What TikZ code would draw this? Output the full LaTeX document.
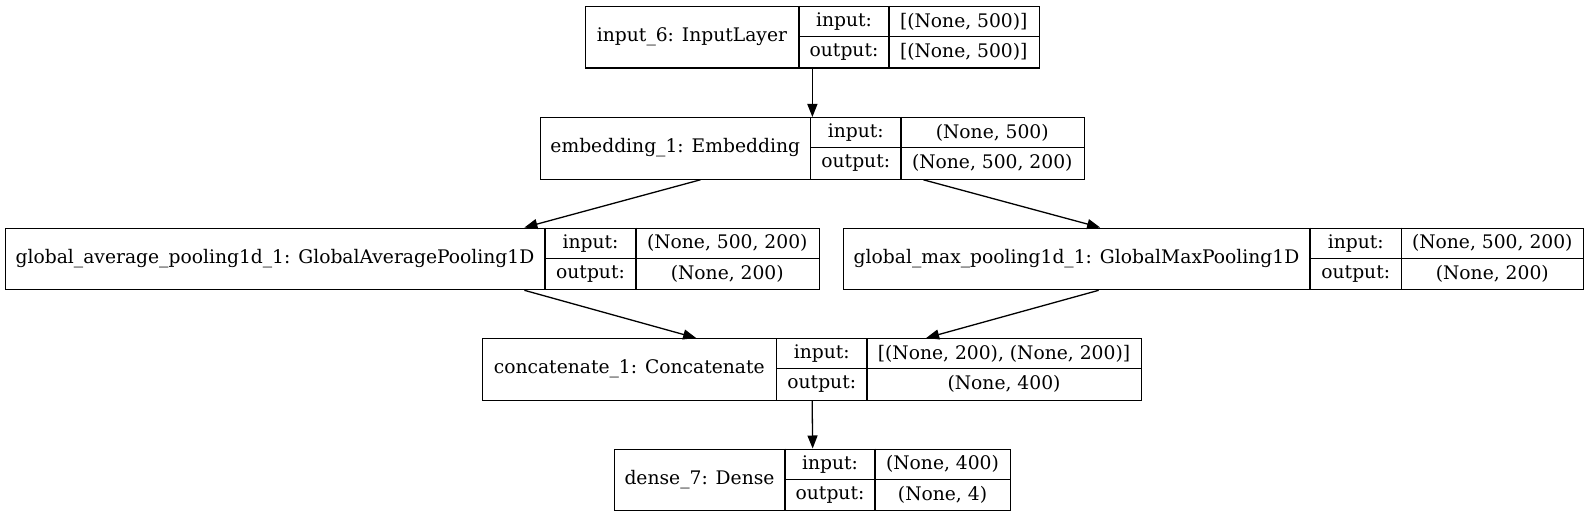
\documentclass[tikz,border=0pt]{standalone}
\usepackage{fontspec}
\setmainfont{DejaVu Serif}
\usetikzlibrary{arrows.meta}
\tikzset{
  recbox/.style={draw=black, line width=1.3pt, inner sep=0pt, rectangle},
  recline/.style={draw=black, line width=1.3pt},
  txt/.style={inner sep=0pt, font=\fontsize{18.7}{22}\selectfont},
  arr/.style={draw=black, line width=1.3pt, -{Triangle[length=13pt,width=10pt]}}
}
% #1 name, #2 x1, #3 d1, #4 d2, #5 x2, #6 ytop, #7 title, #8 in, #9 out
\newcommand\kerasrec[9]{%
  \pgfmathsetmacro\recyb{#6+61.5}%
  \pgfmathsetmacro\recym{#6+30.75}%
  \pgfmathsetmacro\recyi{#6+15.6}%
  \pgfmathsetmacro\recyo{#6+46.2}%
  \node[recbox, minimum width={(#5-#2)*1pt}, minimum height=61.5pt, anchor=north west] (#1) at (#2,#6) {};
  \draw[recline] (#3,#6) -- (#3,\recyb) (#4,#6) -- (#4,\recyb) (#3,\recym) -- (#5,\recym);
  \node[txt] (#1-t) at ({(#2+#3)/2},\recym) {#7};
  \node[txt] (#1-li) at ({(#3+#4)/2},\recyi) {input:};
  \node[txt] (#1-lo) at ({(#3+#4)/2},\recyo) {output:};
  \node[txt] (#1-vi) at ({(#4+#5)/2},\recyi) {#8};
  \node[txt] (#1-vo) at ({(#4+#5)/2},\recyo) {#9};
}
\begin{document}
\begin{tikzpicture}[x=1pt,y=-1pt]
\useasboundingbox[fill=white] (0,0) rectangle (1589,516);
\kerasrec{inp}{585}{799}{889}{1038.5}{6}{input\_6: InputLayer}{[(None, 500)]}{[(None, 500)]}
\kerasrec{emb}{540}{810.5}{901}{1083.5}{117}{embedding\_1: Embedding}{(None, 500)}{(None, 500, 200)}
\kerasrec{gap}{5}{545}{636}{818.5}{227.5}{global\_average\_pooling1d\_1: GlobalAveragePooling1D}{(None, 500, 200)}{(None, 200)}
\kerasrec{gmp}{843}{1310}{1401.5}{1583}{227.5}{global\_max\_pooling1d\_1: GlobalMaxPooling1D}{(None, 500, 200)}{(None, 200)}
\kerasrec{cat}{482}{776.5}{867}{1141}{338}{concatenate\_1: Concatenate}{[(None, 200), (None, 200)]}{(None, 400)}
\kerasrec{den}{614}{785}{875}{1010}{448.5}{dense\_7: Dense}{(None, 400)}{(None, 4)}
\draw[arr] (inp.south) -- (emb.north);
\draw[arr] ([xshift=-112pt]emb.south) -- ([xshift=112pt]gap.north);
\draw[arr] ([xshift=111pt]emb.south) -- ([xshift=-113.5pt]gmp.north);
\draw[arr] ([xshift=112pt]gap.south) -- ([xshift=-116pt]cat.north);
\draw[arr] ([xshift=-115pt]gmp.south) -- ([xshift=114pt]cat.north);
\draw[arr] (cat.south) -- (den.north);
\end{tikzpicture}
\end{document}
